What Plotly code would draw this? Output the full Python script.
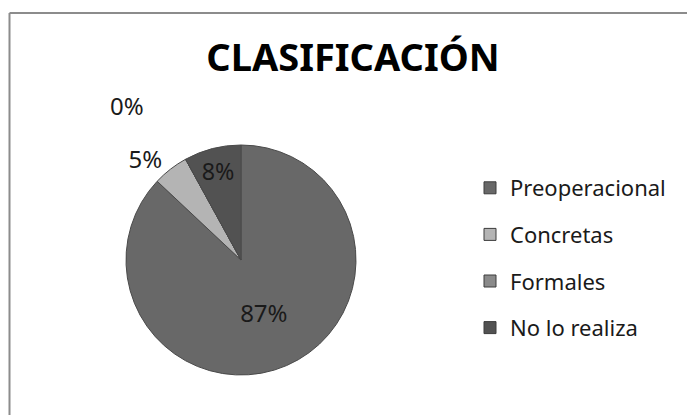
import plotly.graph_objects as go

categories = ["Preoperacional", "Concretas", "Formales", "No lo realiza"]
values = [87, 5, 0, 8]
colors = ["#686868", "#b4b4b4", "#8a8a8a", "#525252"]
title_text = "CLASIFICACIÓN"

W, H = 687, 415
font = "Noto Sans"
total = sum(values)

fig = go.Figure()

fig.add_trace(go.Pie(
    labels=categories,
    values=values,
    sort=False,
    direction="clockwise",
    rotation=0,
    marker=dict(colors=colors, line=dict(color="#4a4a4a", width=1)),
    textinfo="percent",
    texttemplate="%{percent:.0%}",
    textposition=["inside", "outside", "none", "inside"],
    insidetextorientation="horizontal",
    textfont=dict(family=font, size=24, color="#1a1a1a"),
    domain=dict(x=[(241 - 115) / W, (241 + 115) / W],
                y=[1 - 375 / H, 1 - 145 / H]),
    showlegend=False,
    hoverinfo="label+percent",
))

for name, col in zip(categories, colors):
    fig.add_trace(go.Scatter(
        x=[None], y=[None], mode="markers", name=name, legendgroup=name,
        marker=dict(symbol="square", size=12, color=col,
                    line=dict(color="#3c3c3c", width=1)),
        showlegend=True,
    ))

# label for the zero-valued slice (Plotly draws no text for empty slices)
fig.add_annotation(
    text=f"{values[2] / total:.0%}", xref="paper", yref="paper",
    x=127 / W, y=1 - 105 / H, xanchor="center", yanchor="middle",
    showarrow=False, font=dict(family=font, size=24, color="#1a1a1a"),
)

fig.update_layout(
    width=W, height=H,
    margin=dict(l=0, r=0, t=0, b=0),
    paper_bgcolor="white",
    plot_bgcolor="white",
    xaxis=dict(visible=False),
    yaxis=dict(visible=False),
    title=dict(text="<b>" + title_text + "</b>", x=353 / W, xanchor="center",
               y=1 - 58 / H, yanchor="middle",
               font=dict(family=font, size=38, color="black")),
    legend=dict(x=470 / W, xanchor="left", y=1 - 167 / H, yanchor="top",
                font=dict(family=font, size=22, color="#1a1a1a"),
                tracegroupgap=15, bgcolor="rgba(0,0,0,0)"),
    shapes=[
        dict(type="line", xref="paper", yref="paper", x0=9.5 / W, x1=1.02,
             y0=1 - 13 / H, y1=1 - 13 / H, line=dict(color="#8c8c8c", width=2)),
        dict(type="line", xref="paper", yref="paper", x0=9.5 / W, x1=9.5 / W,
             y0=-0.02, y1=1 - 13 / H, line=dict(color="#8c8c8c", width=2)),
    ],
)

fig.write_html("out.html",
               config={"displayModeBar": False},
               post_script="document.body.style.margin='0';document.body.style.overflow='hidden';")
